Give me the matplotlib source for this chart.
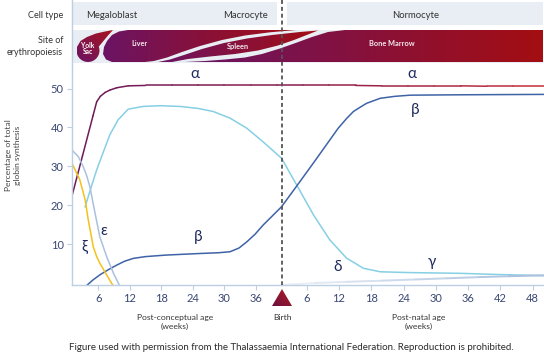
import numpy as np
import matplotlib
matplotlib.use('Agg')
import matplotlib.pyplot as plt
from matplotlib.collections import LineCollection
from matplotlib.colors import LinearSegmentedColormap
from matplotlib.patches import Polygon

plt.rcParams['font.family'] = ['Lato', 'DejaVu Sans']

# running age axis in weeks from conception (birth sits at ~41)
alpha_x = [1.0, 3.0, 5.0, 5.7, 6.4, 7.3, 8.2, 9.5, 11.7, 15, 20, 25, 30, 35, 40, 45, 50, 55, 60, 65, 70, 75, 80, 85, 90.9]
alpha_y = [22.4, 32.7, 43.0, 46.6, 48.0, 49.0, 49.6, 50.2, 50.7, 50.8, 50.8, 50.8, 50.8, 50.8, 50.8, 50.8, 50.8, 50.8, 50.7, 50.7, 50.7, 50.7, 50.6, 50.6, 50.6]

gamma_x = [3.5, 4.5, 5.7, 7.0, 8.2, 9.8, 11.7, 14.5, 17.8, 21.6, 25.0, 27.9, 31.1, 34.3, 37.4, 40.9, 43.8, 47.0, 50.1, 53.3, 56.5, 59.7, 65, 74.9, 82, 90.9]
gamma_y = [19.6, 24.0, 29.1, 33.8, 38.1, 42.0, 44.7, 45.4, 45.6, 45.4, 44.9, 44.1, 42.4, 39.8, 36.3, 32.1, 25.2, 17.5, 11.1, 6.4, 3.8, 2.9, 2.7, 2.5, 2.2, 1.9]

beta_x = [3.9, 5.0, 6.3, 8.0, 9.5, 11.0, 12.7, 15, 19.0, 25.4, 29, 31.1, 32.8, 34.3, 35.9, 37.4, 40.9, 43.8, 47.0, 51.7, 53.3, 54.6, 56.0, 57.1, 59.7, 62.5, 65.4, 75, 90.9]
beta_y = [-0.5, 0.8, 2.1, 3.5, 4.6, 5.6, 6.35, 6.8, 7.2, 7.6, 7.8, 8.05, 9.0, 10.6, 12.6, 14.9, 19.6, 24.95, 30.9, 39.8, 42.3, 44.1, 45.3, 46.2, 47.5, 48.0, 48.3, 48.4, 48.5]

eps_x = [1.0, 2.2, 3.15, 3.8, 4.4, 5.4, 6.3, 7.6, 8.9, 10.0]
eps_y = [34.2, 32.5, 29.9, 27.6, 24.8, 17.9, 11.9, 6.8, 2.5, -0.5]

zeta_x = [1.0, 2.5, 3.5, 4.1, 5.06, 5.7, 6.3, 7.6, 8.75]
zeta_y = [30.8, 26.5, 21.4, 16.2, 9.3, 6.8, 5.1, 2.1, -0.5]

delta_x = [40.9, 47, 53, 59.7, 66, 72, 78, 84, 90.9]
delta_y = [-0.5, 0.0, 0.3, 0.6, 0.9, 1.2, 1.5, 1.75, 2.0]

prenatal_weeks = [6, 12, 18, 24, 30, 36]
postnatal_weeks = [6, 12, 18, 24, 30, 36, 42, 48]
birth_week = 40.9

cell_types = ['Megaloblast', 'Macrocyte', 'Normocyte']
sites = ['Yolk\nSac', 'Liver', 'Spleen', 'Bone Marrow']

PURPLE = '#6b1464'
RED = '#a30e12'
NAVY = '#1f2b5e'
TICKC = '#3a4775'
SPINE = '#bccfe3'
BAND = '#e8eef3'

fig = plt.figure(figsize=(5.44, 3.57), dpi=100)
W, H = 544, 357

ax = fig.add_axes([72 / W, (H - 285) / H, 472 / W, (285 - 66) / H])
ax.set_xlim(1.0, 90.9)
ax.set_ylim(-0.5, 55.8)
for s in ['top', 'right']:
    ax.spines[s].set_visible(False)
for s in ['left', 'bottom']:
    ax.spines[s].set_color(SPINE)
    ax.spines[s].set_linewidth(1.0)
ax.patch.set_alpha(0)

pn_pos = [39.55 + 1.025 * w for w in postnatal_weeks]
ax.set_xticks(prenatal_weeks + pn_pos)
ax.set_xticklabels([str(w) for w in prenatal_weeks + postnatal_weeks])
ax.set_yticks([10, 20, 30, 40, 50])
ax.tick_params(colors=SPINE, labelcolor=TICKC, labelsize=8, length=3.5, width=0.8, pad=2.5)

# alpha with purple -> red gradient
cm_alpha = LinearSegmentedColormap.from_list('a', ['#6b1b5a', '#8c1d4c', '#c4303a'])
pts = np.column_stack([alpha_x, alpha_y])
segs = np.stack([pts[:-1], pts[1:]], axis=1)
mids = (np.array(alpha_x[:-1]) + np.array(alpha_x[1:])) / 2
lc = LineCollection(segs, colors=cm_alpha(mids / 91), linewidths=1.1, capstyle='round')
ax.add_collection(lc)

ax.plot(gamma_x, gamma_y, color='#86cfe4', lw=1.1)
ax.plot(beta_x, beta_y, color='#3e63a6', lw=1.1)
ax.plot(eps_x, eps_y, color='#a9c1df', lw=1.1)
ax.plot(zeta_x, zeta_y, color='#f4c11a', lw=1.1)

cm_delta = LinearSegmentedColormap.from_list('d', ['#eef3f9', '#a5bcdb'])
pts = np.column_stack([delta_x, delta_y])
segs = np.stack([pts[:-1], pts[1:]], axis=1)
mids = (np.array(delta_x[:-1]) + np.array(delta_x[1:])) / 2
ax.add_collection(LineCollection(segs, colors=cm_delta((mids - 40) / 51), linewidths=1.4))

greek = [('α', 24.4, 53.8), ('α', 65.8, 53.8), ('β', 66.3, 44.5), ('β', 25.0, 11.8),
         ('ε', 7.1, 13.4), ('ξ', 3.3, 9.2), ('δ', 51.5, 4.0), ('γ', 69.6, 5.3)]
for g, x, y in greek:
    ax.text(x, y, g, fontsize=11, color=NAVY, ha='center', va='center')

# overlay in pixel coordinates for the header strips, birth marker and labels
ov = fig.add_axes([0, 0, 1, 1], zorder=3)
ov.axis('off')


def grad_fill(pts, c0, c1, diag=False):
    poly = Polygon(pts, closed=True, facecolor='none', edgecolor='none')
    ov.add_patch(poly)
    xs = [p[0] for p in pts]
    ys = [p[1] for p in pts]
    n = 128
    if diag:
        gx, gy = np.meshgrid(np.linspace(0, 1, n), np.linspace(0, 1, n))
        z = (gx + (1 - gy)) / 2
    else:
        z = np.tile(np.linspace(0, 1, n), (2, 1))
    cmap = LinearSegmentedColormap.from_list('g', [c0, c1])
    im = ov.imshow(z, cmap=cmap, extent=(min(xs), max(xs), max(ys), min(ys)), origin='upper',
                   aspect='auto', interpolation='bilinear', vmin=0, vmax=1, zorder=2)
    im.set_clip_path(poly)


# cell type bands
ov.add_patch(plt.Rectangle((73, 2), 204, 23, color=BAND, lw=0, zorder=1))
ov.add_patch(plt.Rectangle((287, 2), 256, 23, color=BAND, lw=0, zorder=1))
# erythropoiesis background
ov.add_patch(plt.Rectangle((73, 30), 470, 32.5, color=BAND, lw=0, zorder=1))
ov.plot([72, 72], [0, 66], color=SPINE, lw=1.0)

# yolk sac
th = np.radians(np.linspace(160, 380, 30))
yolk = [(88 + 11.5 * np.cos(t), 50.5 - 11.5 * np.sin(t)) for t in th]
yolk += [(103, 41.5), (108, 35.5), (113, 30), (105, 31.5), (96, 33.5), (87, 37), (80.5, 41)]
grad_fill(yolk, PURPLE, '#a8141c', diag=True)

liver = [(112, 62), (106, 59.5), (103, 54), (104, 47), (107, 41), (112, 35), (119, 31.5), (128, 30),
         (296, 30), (270, 32.3), (245, 35.5), (222, 40), (200, 46), (182, 52), (167, 57.5),
         (154, 61), (145, 62)]
grad_fill(liver, PURPLE, RED)

spleen = [(158, 62), (170, 59.5), (184, 55), (202, 49), (224, 43), (247, 38.5), (272, 35), (300, 32),
          (318, 30.5), (308, 34.5), (294, 40), (278, 45.5), (258, 50.5), (235, 54), (210, 56.5),
          (188, 59), (172, 62)]
grad_fill(spleen, PURPLE, RED)

marrow = [(185, 62), (205, 61), (225, 59.5), (245, 57.5), (262, 54), (280, 48.5), (297, 42.5),
          (312, 37), (328, 32), (345, 30), (543, 30), (543, 62)]
grad_fill(marrow, PURPLE, RED)

# birth marker
grad_fill([(272, 306), (292, 306), (282, 289)], '#6a1040', '#b41c22', diag=True)

# birth line
ov.plot([282, 282], [0, 285], color='#555555', lw=1.3, dashes=(2.2, 1.6), zorder=4)

TXT = '#333333'
ov.text(63, 15, 'Cell type', ha='right', va='center', fontsize=6.6, color=TXT)
ov.text(63, 46.5, 'Site of\nerythropoiesis', ha='right', va='center', fontsize=6.5, color=TXT,
        multialignment='right', linespacing=1.3)
ov.text(86, 15, cell_types[0], ha='left', va='center', fontsize=6.8, color=TXT)
ov.text(246, 15, cell_types[1], ha='center', va='center', fontsize=6.8, color=TXT)
ov.text(416, 15, cell_types[2], ha='center', va='center', fontsize=6.8, color=TXT)

ov.text(88, 48.5, sites[0], ha='center', va='center', fontsize=4.8, color='white',
        fontweight='bold', linespacing=1.0, zorder=5)
ov.text(140, 44, sites[1], ha='center', va='center', fontsize=5.3, color='#f3e8ee', fontweight='bold', zorder=5)
ov.text(238, 46.5, sites[2], ha='center', va='center', fontsize=5.3, color='#f3e8ee', fontweight='bold', zorder=5)
ov.text(392, 44, sites[3], ha='center', va='center', fontsize=5.3, color='#f3e8ee', fontweight='bold', zorder=5)

ov.text(13, 155, 'Percentage of total\nglobin synthesis', rotation=90, ha='center', va='center',
        fontsize=6.1, color='#444444', linespacing=1.3)

ov.text(175, 322, 'Post-conceptual age\n(weeks)', ha='center', va='center', fontsize=6.1,
        color=TXT, linespacing=1.4)
ov.text(282, 317, 'Birth', ha='center', va='center', fontsize=6.1, color=TXT)
ov.text(419, 322, 'Post-natal age\n(weeks)', ha='center', va='center', fontsize=6.1,
        color=TXT, linespacing=1.4)

ov.text(291, 347, 'Figure used with permission from the Thalassaemia International Federation. '
        'Reproduction is prohibited.', ha='center', va='center', fontsize=7.0, color='#2b2b2b')

ov.set_xlim(0, W)
ov.set_ylim(H, 0)

fig.savefig('out.png', dpi=100)
